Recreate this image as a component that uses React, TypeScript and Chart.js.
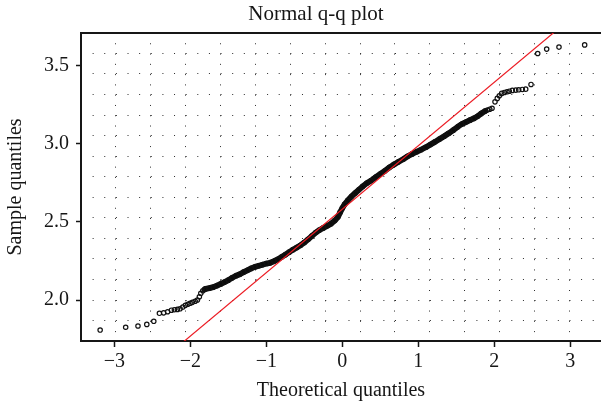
import React, { useEffect, useRef } from "react";
import { Chart, registerables } from "chart.js";

Chart.register(...registerables);

const TITLE = "Normal q-q plot";
const X_LABEL = "Theoretical quantiles";
const Y_LABEL = "Sample quantiles";

const X_TICKS = [-3, -2, -1, 0, 1, 2, 3];
const X_TICK_LABELS = ["−3", "−2", "−1", "0", "1", "2", "3"];
const Y_TICKS = [2.0, 2.5, 3.0, 3.5];
const Y_TICK_LABELS = ["2.0", "2.5", "3.0", "3.5"];

const X_MIN = -3.44;
const X_MAX = 3.404;
const Y_MIN = 1.738;
const Y_MAX = 3.707;

// sparse lower tail (individual circles)
const LOW_TAIL_X = [-3.188, -2.852, -2.69, -2.574, -2.482, -2.408, -2.352, -2.3, -2.25, -2.211, -2.171, -2.136, -2.1, -2.066, -2.034, -2.004, -1.974, -1.938, -1.908, -1.882, -1.863, -1.837, -1.815];
const LOW_TAIL_Y = [1.808, 1.826, 1.834, 1.844, 1.864, 1.915, 1.918, 1.925, 1.935, 1.938, 1.94, 1.944, 1.955, 1.966, 1.973, 1.979, 1.985, 1.992, 2.0, 2.021, 2.043, 2.059, 2.068];

// dense body of the sample (overlapping circles)
const BODY_X = [-1.8, -1.75, -1.7, -1.65, -1.6, -1.55, -1.5, -1.45, -1.4, -1.35, -1.3, -1.25, -1.2, -1.15, -1.1, -1.05, -1.0, -0.95, -0.9, -0.85, -0.8, -0.75, -0.7, -0.65, -0.6, -0.55, -0.5, -0.45, -0.4, -0.35, -0.3, -0.25, -0.2, -0.15, -0.1, -0.06, -0.03, 0.0, 0.03, 0.07, 0.12, 0.17, 0.22, 0.27, 0.32, 0.38, 0.44, 0.5, 0.56, 0.62, 0.68, 0.74, 0.8, 0.86, 0.92, 0.98, 1.04, 1.1, 1.16, 1.22, 1.28, 1.34, 1.4, 1.46, 1.52, 1.57, 1.62, 1.68, 1.73, 1.78, 1.83, 1.88];
const BODY_Y = [2.071, 2.076, 2.082, 2.092, 2.103, 2.115, 2.127, 2.142, 2.155, 2.165, 2.178, 2.19, 2.202, 2.212, 2.219, 2.226, 2.233, 2.238, 2.248, 2.26, 2.275, 2.29, 2.306, 2.322, 2.336, 2.35, 2.368, 2.388, 2.41, 2.431, 2.448, 2.461, 2.474, 2.488, 2.508, 2.53, 2.56, 2.588, 2.612, 2.636, 2.662, 2.684, 2.706, 2.727, 2.746, 2.764, 2.786, 2.806, 2.826, 2.848, 2.867, 2.884, 2.9, 2.919, 2.934, 2.948, 2.962, 2.977, 2.994, 3.011, 3.029, 3.047, 3.066, 3.086, 3.108, 3.124, 3.136, 3.15, 3.161, 3.175, 3.193, 3.208];

// sparse upper tail
const HIGH_TAIL_X = [1.91, 1.94, 1.97, 2.009, 2.039, 2.066, 2.097, 2.132, 2.167, 2.197, 2.237, 2.282, 2.321, 2.368, 2.413, 2.483, 2.571, 2.689, 2.851, 3.189];
const HIGH_TAIL_Y = [3.214, 3.22, 3.226, 3.267, 3.289, 3.306, 3.321, 3.327, 3.331, 3.335, 3.34, 3.342, 3.344, 3.346, 3.348, 3.378, 3.576, 3.604, 3.617, 3.631];

// reference (qq) line
const QQLINE_INTERCEPT = 2.581;
const QQLINE_SLOPE = 0.4056;

// dotted background grid
const GRID_X0 = -2.98;
const GRID_DX = 0.459;
const GRID_X_LINES = [0, 1, 2, 3, 4, 5, 6, 7, 8, 9, 10, 11, 12, 13];
const GRID_Y0 = 2.0;
const GRID_DY = 0.1314;
const GRID_Y_LINES = [-1, 0, 1, 2, 3, 4, 5, 6, 7, 8, 9, 10, 11, 12];

const FONT = "'Liberation Serif', 'DejaVu Serif', serif";
const INK = "#161616";

const pairs = (xs: number[], ys: number[]) => xs.map((x, i) => ({ x, y: ys[i] }));

const titlePlugin = {
  id: "plotTitle",
  afterDraw(chart: any) {
    const ctx = chart.ctx;
    ctx.save();
    ctx.font = `21px ${FONT}`;
    ctx.fillStyle = INK;
    ctx.textAlign = "center";
    ctx.textBaseline = "alphabetic";
    ctx.fillText(TITLE, 316, 20);
    ctx.restore();
  },
};

export default function App() {
  const ref = useRef<HTMLCanvasElement | null>(null);

  useEffect(() => {
    if (!ref.current) return;
    const pointStyle = {
      pointRadius: 2.2,
      pointBorderWidth: 1.2,
      pointBorderColor: "#111",
      pointBackgroundColor: "rgba(0,0,0,0)",
      pointHoverRadius: 2.2,
    };
    const axes = { xAxisID: "x", yAxisID: "y" };
    const chart = new Chart(ref.current, {
      type: "scatter",
      data: {
        datasets: [
          {
            label: "qq line",
            ...axes,
            data: [
              { x: X_MIN, y: QQLINE_INTERCEPT + QQLINE_SLOPE * X_MIN },
              { x: X_MAX, y: QQLINE_INTERCEPT + QQLINE_SLOPE * X_MAX },
            ],
            showLine: true,
            borderColor: "rgb(236,28,36)",
            borderWidth: 1.2,
            pointRadius: 0,
            order: 0,
          },
          {
            label: "low tail",
            ...axes,
            data: pairs(LOW_TAIL_X, LOW_TAIL_Y),
            showLine: false,
            ...pointStyle,
            order: 1,
          },
          {
            label: "body",
            ...axes,
            data: pairs(BODY_X, BODY_Y),
            showLine: true,
            borderColor: "#0b0b0b",
            borderWidth: 5.8,
            borderJoinStyle: "round",
            borderCapStyle: "round",
            ...pointStyle,
            order: 1,
          },
          {
            label: "high tail",
            ...axes,
            data: pairs(HIGH_TAIL_X, HIGH_TAIL_Y),
            showLine: false,
            ...pointStyle,
            order: 1,
          },
        ],
      },
      options: {
        animation: false,
        responsive: false,
        devicePixelRatio: 1,
        events: [],
        layout: { autoPadding: false, padding: { top: 33, left: 0, right: 0, bottom: 0 } },
        plugins: { legend: { display: false }, tooltip: { enabled: false }, title: { display: false } },
        scales: {
          x: {
            type: "linear",
            position: "bottom",
            min: X_MIN,
            max: X_MAX,
            afterBuildTicks: (s: any) => {
              s.ticks = X_TICKS.map((v) => ({ value: v }));
            },
            afterFit: (s: any) => {
              s.height = 65;
            },
            ticks: {
              callback: (v: any) => {
                const i = X_TICKS.indexOf(Number(v));
                return i >= 0 ? X_TICK_LABELS[i] : "";
              },
              font: { family: FONT, size: 20 },
              color: INK,
              padding: 3,
              maxRotation: 0,
              autoSkip: false,
            },
            grid: { display: true, drawOnChartArea: false, drawTicks: true, tickLength: 6, tickWidth: 1.5, tickColor: INK },
            border: { display: true, color: INK, width: 2 },
            title: {
              display: true,
              text: X_LABEL,
              font: { family: FONT, size: 20 },
              color: INK,
              padding: { top: 0, bottom: 3 },
            },
          },
          y: {
            type: "linear",
            position: "left",
            min: Y_MIN,
            max: Y_MAX,
            afterBuildTicks: (s: any) => {
              s.ticks = Y_TICKS.map((v) => ({ value: v }));
            },
            afterFit: (s: any) => {
              s.width = 81;
            },
            ticks: {
              callback: (v: any) => {
                const i = Y_TICKS.indexOf(Number(v));
                return i >= 0 ? Y_TICK_LABELS[i] : "";
              },
              font: { family: FONT, size: 20 },
              color: INK,
              padding: 7,
              autoSkip: false,
            },
            grid: { display: true, drawOnChartArea: false, drawTicks: true, tickLength: 5, tickWidth: 1.5, tickColor: INK },
            border: { display: true, color: INK, width: 2 },
            title: {
              display: true,
              text: Y_LABEL,
              font: { family: FONT, size: 20 },
              color: INK,
              padding: { top: 4, bottom: 0 },
            },
          },
          gx: {
            type: "linear",
            position: "bottom",
            min: (X_MIN - GRID_X0) / GRID_DX,
            max: (X_MAX - GRID_X0) / GRID_DX,
            afterBuildTicks: (s: any) => {
              s.ticks = GRID_X_LINES.map((v) => ({ value: v }));
            },
            afterFit: (s: any) => {
              s.height = 0;
            },
            ticks: { display: false },
            grid: { display: true, drawOnChartArea: true, drawTicks: false, color: "#2e2e2e", lineWidth: 1 },
            border: { display: false, dash: [1, 9.28] },
          },
          gy: {
            type: "linear",
            position: "left",
            min: (Y_MIN - GRID_Y0) / GRID_DY,
            max: (Y_MAX - GRID_Y0) / GRID_DY,
            afterBuildTicks: (s: any) => {
              s.ticks = GRID_Y_LINES.map((v) => ({ value: v }));
            },
            afterFit: (s: any) => {
              s.width = 0;
            },
            ticks: { display: false },
            grid: { display: true, drawOnChartArea: true, drawTicks: false, color: "#2e2e2e", lineWidth: 1 },
            border: { display: false, dash: [1, 10.63] },
          },
          xt: {
            type: "linear",
            position: "top",
            min: X_MIN,
            max: X_MAX,
            afterFit: (s: any) => {
              s.height = 0;
            },
            ticks: { display: false },
            grid: { display: false },
            border: { display: true, color: INK, width: 2 },
          },
        },
      } as any,
      plugins: [titlePlugin],
    });
    return () => chart.destroy();
  }, []);

  return (
    <div style={{ position: "absolute", left: 0, top: 0, width: 601, height: 406, background: "#fff" }}>
      <canvas ref={ref} width={601} height={406} style={{ display: "block", width: 601, height: 406 }} />
    </div>
  );
}
